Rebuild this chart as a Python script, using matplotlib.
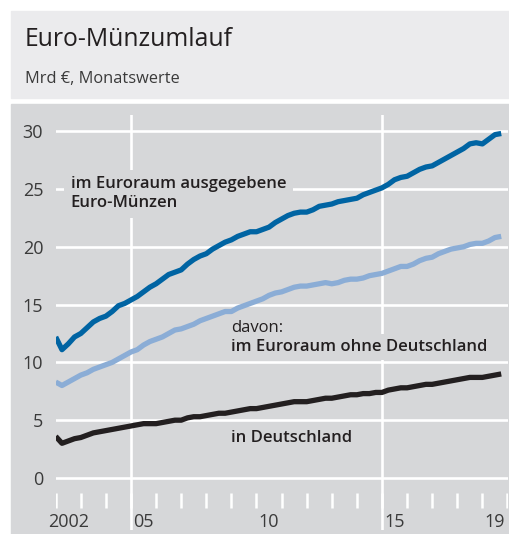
import matplotlib.pyplot as plt
from matplotlib.patches import Rectangle
import numpy as np

plt.rcParams['font.family'] = ['Open Sans', 'DejaVu Sans']

# quarterly values (Jan, Apr, Jul, Oct), 2002 - 2019, Mrd Euro
euro_area = [12.2, 11.1, 11.6, 12.2,
             12.5, 13.0, 13.5, 13.8,
             14.0, 14.4, 14.9, 15.1,
             15.4, 15.7, 16.1, 16.5,
             16.8, 17.2, 17.6, 17.8,
             18.0, 18.5, 18.9, 19.2,
             19.4, 19.8, 20.1, 20.4,
             20.6, 20.9, 21.1, 21.3,
             21.3, 21.5, 21.7, 22.1,
             22.4, 22.7, 22.9, 23.0,
             23.0, 23.2, 23.5, 23.6,
             23.7, 23.9, 24.0, 24.1,
             24.2, 24.5, 24.7, 24.9,
             25.1, 25.4, 25.8, 26.0,
             26.1, 26.4, 26.7, 26.9,
             27.0, 27.3, 27.6, 27.9,
             28.2, 28.5, 28.9, 29.0,
             28.9, 29.3, 29.7, 29.8]
without_de = [8.3, 8.0, 8.3, 8.6,
              8.9, 9.1, 9.4, 9.6,
              9.8, 10.0, 10.3, 10.6,
              10.9, 11.1, 11.5, 11.8,
              12.0, 12.2, 12.5, 12.8,
              12.9, 13.1, 13.3, 13.6,
              13.8, 14.0, 14.2, 14.4,
              14.4, 14.7, 14.9, 15.1,
              15.3, 15.5, 15.8, 16.0,
              16.1, 16.3, 16.5, 16.6,
              16.6, 16.7, 16.8, 16.9,
              16.8, 16.9, 17.1, 17.2,
              17.2, 17.3, 17.5, 17.6,
              17.7, 17.9, 18.1, 18.3,
              18.3, 18.5, 18.8, 19.0,
              19.1, 19.4, 19.6, 19.8,
              19.9, 20.0, 20.2, 20.3,
              20.3, 20.5, 20.8, 20.9]
germany = [3.6, 3.0, 3.2, 3.4,
           3.5, 3.7, 3.9, 4.0,
           4.1, 4.2, 4.3, 4.4,
           4.5, 4.6, 4.7, 4.7,
           4.7, 4.8, 4.9, 5.0,
           5.0, 5.2, 5.3, 5.3,
           5.4, 5.5, 5.6, 5.6,
           5.7, 5.8, 5.9, 6.0,
           6.0, 6.1, 6.2, 6.3,
           6.4, 6.5, 6.6, 6.6,
           6.6, 6.7, 6.8, 6.9,
           6.9, 7.0, 7.1, 7.2,
           7.2, 7.3, 7.3, 7.4,
           7.4, 7.6, 7.7, 7.8,
           7.8, 7.9, 8.0, 8.1,
           8.1, 8.2, 8.3, 8.4,
           8.5, 8.6, 8.7, 8.7,
           8.7, 8.8, 8.9, 9.0]
dates = 2002 + np.arange(len(euro_area)) / 4

year_ticks = list(range(2002, 2021))
year_labels = {2002: '2002', 2005: '05', 2010: '10', 2015: '15', 2019: '19'}
y_ticks = [0, 5, 10, 15, 20, 25, 30]

W, H = 509, 534
header_bg = '#ebebed'
panel_bg = '#d6d7d9'
text_col = '#231f20'

fig = plt.figure(figsize=(W / 100, H / 100), dpi=100)

def box(x0, y0, x1, y1, color):
    fig.patches.append(Rectangle((x0 / W, 1 - y1 / H), (x1 - x0) / W, (y1 - y0) / H,
                                 transform=fig.transFigure, color=color, zorder=-10))

box(11, 11, W, 97.5, header_bg)
box(11, 104, W, H, panel_bg)

fig.text(25 / W, 1 - 46 / H, 'Euro-Münzumlauf', fontsize=17.8, color=text_col, va='baseline')
fig.text(25 / W, 1 - 83 / H, 'Mrd €, Monatswerte', fontsize=11.8, color='#3a3a3a', va='baseline')

ax = fig.add_axes([55.7 / W, 4 / H, 452.3 / W, 415 / H])
ax.set_zorder(1)
ax.set_facecolor(panel_bg)
for s in ax.spines.values():
    s.set_visible(False)
ax.set_xlim(2002, 2020.02)
ax.set_ylim(-4.5, 31.4)

for v in y_ticks:
    ax.axhline(v, color='white', lw=1.9, zorder=1)
for yr in (2005, 2015):
    ax.axvline(yr, color='white', lw=1.9, zorder=1)
ax.vlines(year_ticks, -2.6, -1.3, color='white', lw=1.8, zorder=1)

ax.set_xticks([])
ax.set_yticks(y_ticks)
ax.set_yticklabels([str(v) for v in y_ticks], fontsize=13, color='#3a3a3a')
ax.tick_params(axis='y', length=0, pad=9)

for yr, lab in year_labels.items():
    ax.text(yr + 0.5, -3.85, lab, ha='center', va='center', fontsize=13, color='#3a3a3a')

ax.plot(dates, euro_area, color='#0064a3', lw=3.8, solid_capstyle='butt', zorder=3)
ax.plot(dates, without_de, color='#8badd6', lw=3.8, solid_capstyle='butt', zorder=3)
ax.plot(dates, germany, color='#231f20', lw=3.8, solid_capstyle='butt', zorder=3)

lab_kw = dict(fontsize=12, color=text_col, fontweight='semibold', zorder=2)
ax.text(2002.6, 26.1, 'im Euroraum ausgegebene\nEuro-Münzen', va='top', ha='left',
        linespacing=1.25, bbox=dict(boxstyle='square,pad=0.4', fc=panel_bg, ec='none'), **lab_kw)
ax.text(2009.0, 13.0, 'davon:', va='center', ha='left', fontsize=12, color=text_col,
        zorder=2, bbox=dict(boxstyle='square,pad=0.2', fc=panel_bg, ec='none'))
ax.text(2009.0, 11.3, 'im Euroraum ohne Deutschland', va='center', ha='left',
        bbox=dict(boxstyle='square,pad=0.3', fc=panel_bg, ec='none'), **lab_kw)
ax.text(2009.0, 3.5, 'in Deutschland', va='center', ha='left',
        bbox=dict(boxstyle='square,pad=0.3', fc=panel_bg, ec='none'), **lab_kw)

fig.savefig('out.png', dpi=100)
